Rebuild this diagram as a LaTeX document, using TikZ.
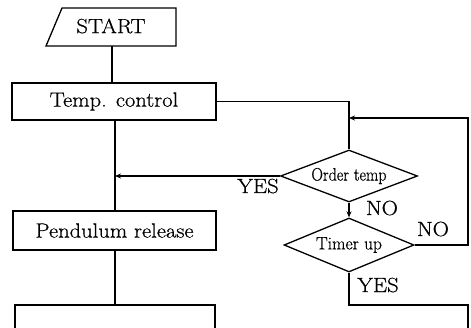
\documentclass[tikz,border=0pt]{standalone}
\usepackage{fontspec}
\usepackage{graphicx}
\newfontfamily\scanfont{Latin Modern Roman}[FakeBold=0.6]
\usetikzlibrary{shapes.geometric,arrows.meta}
\tikzset{
  ln/.style={line width=1.3pt},
  arr/.style={ln,-{Stealth[length=6pt,width=5pt]}},
  box/.style={draw,line width=1.3pt,rectangle,inner sep=0pt},
  dia/.style={draw,line width=1.3pt,diamond,inner sep=0pt,aspect=2.6},
  lbl/.style={inner sep=0pt},
}
\newcommand{\bigtxt}[1]{\scanfont\fontsize{20.5}{22}\selectfont\scalebox{1.1}[1]{#1}}
\newcommand{\smtxt}[2]{\scanfont\fontsize{18}{19}\selectfont\scalebox{#1}[1]{#2}}
\begin{document}
\begin{tikzpicture}[x=1pt,y=-1pt]
\useasboundingbox (0,0) rectangle (471,328);
\clip (0,0) rectangle (471,328);
% START parallelogram
\coordinate (s1) at (62,8);
\coordinate (s2) at (176,8);
\coordinate (s3) at (176,46);
\coordinate (s4) at (46,46);
\draw[ln,line join=miter] (s1) -- (s2) -- (s3) -- (s4) -- cycle;
\node[lbl] (start) at (111,26) {\bigtxt{START}};
\coordinate (startb) at (112,46);
% boxes
\node[box,minimum width=204pt,minimum height=37pt] (temp) at (114,101.5) {\bigtxt{Temp. control}};
\node[box,minimum width=203pt,minimum height=39pt] (pend) at (114.5,230.5) {\bigtxt{Pendulum release}};
\node[box,minimum width=200pt,minimum height=40pt] (print) at (115,325) {};
% diamonds
\node[dia,minimum width=137pt,minimum height=52pt] (order) at (349,176) {\smtxt{0.89}{Order temp}};
\node[dia,minimum width=130pt,minimum height=54pt] (timer) at (349,245) {\smtxt{0.97}{Timer up}};
% connectors
\draw[ln] (startb) -- (startb |- temp.north);
\coordinate (t1) at (349,101.5);
\draw[ln] (temp.east) -- (t1) -- (order.north);
\draw[arr] (order.south) -- (timer.north);
\coordinate (m1) at (115,176);
\draw[arr] (order.west) -- (m1);
\coordinate (r1) at (468,245);
\coordinate (r2) at (468,118);
\coordinate (r3) at (349,118);
\draw[arr] (timer.east) -- (r1) -- (r2) -- (r3);
\coordinate (b1) at (349,305);
\coordinate (b2) at (468,305);
\coordinate (b3) at (468,340);
\draw[ln] (timer.south) -- (b1) -- (b2) -- (b3);
\draw[ln] (115,120) -- (pend.north -| 115,120);
\draw[ln] (pend.south -| print.north) -- (print.north);
% labels
\node[lbl] (yes1) at (258,186) {\bigtxt{YES}};
\node[lbl] (no1) at (382,208) {\bigtxt{NO}};
\node[lbl] (no2) at (433,229) {\bigtxt{NO}};
\node[lbl] (yes2) at (378,285) {\bigtxt{YES}};
\end{tikzpicture}
\end{document}
